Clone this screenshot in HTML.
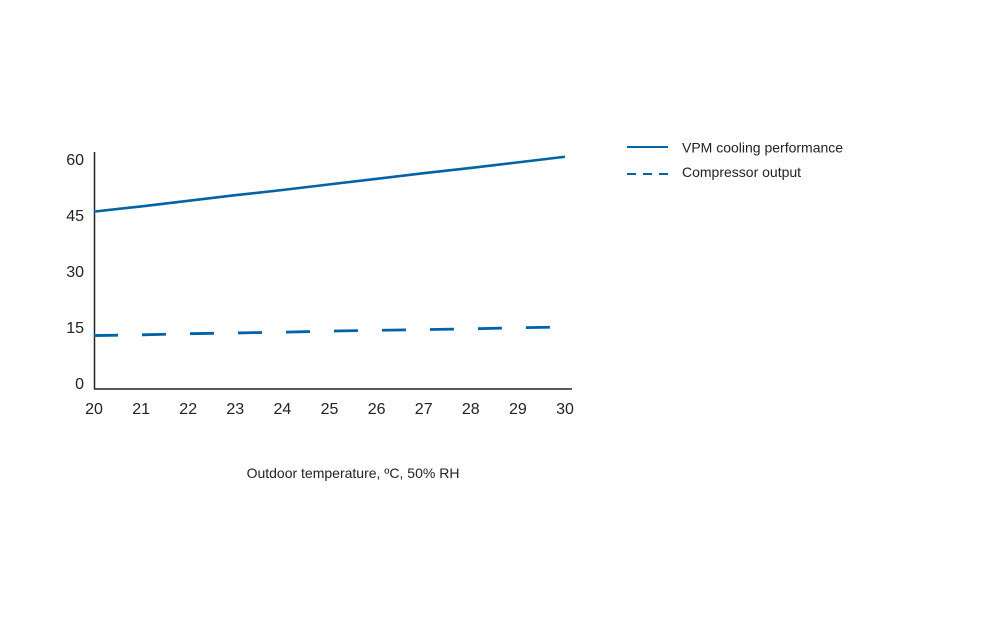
<!DOCTYPE html>
<html><head><meta charset="utf-8"><style>
body{margin:0;background:#fff;}
svg{display:block;font-family:"Liberation Sans",sans-serif;}
</style></head><body>
<svg width="990" height="627" viewBox="0 0 990 627">
<g id="axes"></g><g id="series"></g>
<g>
<line x1="627" y1="147" x2="668" y2="147" stroke="#0063a6" stroke-width="2"/>
<text x="682" y="152.5" font-size="14" fill="#222">VPM cooling performance</text>
<line x1="627" y1="174" x2="668" y2="174" stroke="#0063a6" stroke-width="2" stroke-dasharray="9,7"/>
<text x="682" y="177" font-size="14" fill="#222">Compressor output</text>
</g>
<text x="353" y="478" font-size="14" fill="#222" text-anchor="middle">Outdoor temperature, ºC, 50% RH</text>
</svg>
<script>
const categories=[20,21,22,23,24,25,26,27,28,29,30];
const vpmValues=[45.9,47.3,48.8,50.3,51.7,53.2,54.7,56.2,57.6,59.1,60.6];
const compressorValues=[12.7,12.9,13.2,13.4,13.6,13.9,14.1,14.3,14.5,14.8,15.0];
const yTicks=[0,15,30,45,60];
const NS="http://www.w3.org/2000/svg";
function xs(v){return 94+(v-20)*47.1;}
function ys(v){return 383-v*56/15;}
const axes=document.getElementById('axes'),series=document.getElementById('series');
function mk(tag,attrs,parent){const e=document.createElementNS(NS,tag);for(const k in attrs)e.setAttribute(k,attrs[k]);parent.appendChild(e);return e;}
let yl=mk('line',{x1:94.5,y1:152,x2:94.5,y2:389.5,stroke:'#222','stroke-width':1.5},axes);


let xl=mk('line',{x1:94,y1:389,x2:572,y2:389,stroke:'#222','stroke-width':1.5},axes);


yTicks.forEach(t=>{const e=mk('text',{x:84,y:ys(t)+6,'font-size':16,fill:'#222','text-anchor':'end'},axes);e.textContent=t;

});
categories.forEach(c=>{const e=mk('text',{x:xs(c),y:414,'font-size':16,fill:'#222','text-anchor':'middle'},axes);e.textContent=c;

});
function pts(vals){return vals.map((v,i)=>xs(categories[i])+','+ys(v)).join(' ');}
let s1=mk('polyline',{points:pts(vpmValues),fill:'none',stroke:'#0063a6','stroke-width':2.6},series);


let s2=mk('polyline',{points:pts(compressorValues),fill:'none',stroke:'#0063a6','stroke-width':2.8,'stroke-dasharray':'24,24'},series);


</script>
</body></html>
